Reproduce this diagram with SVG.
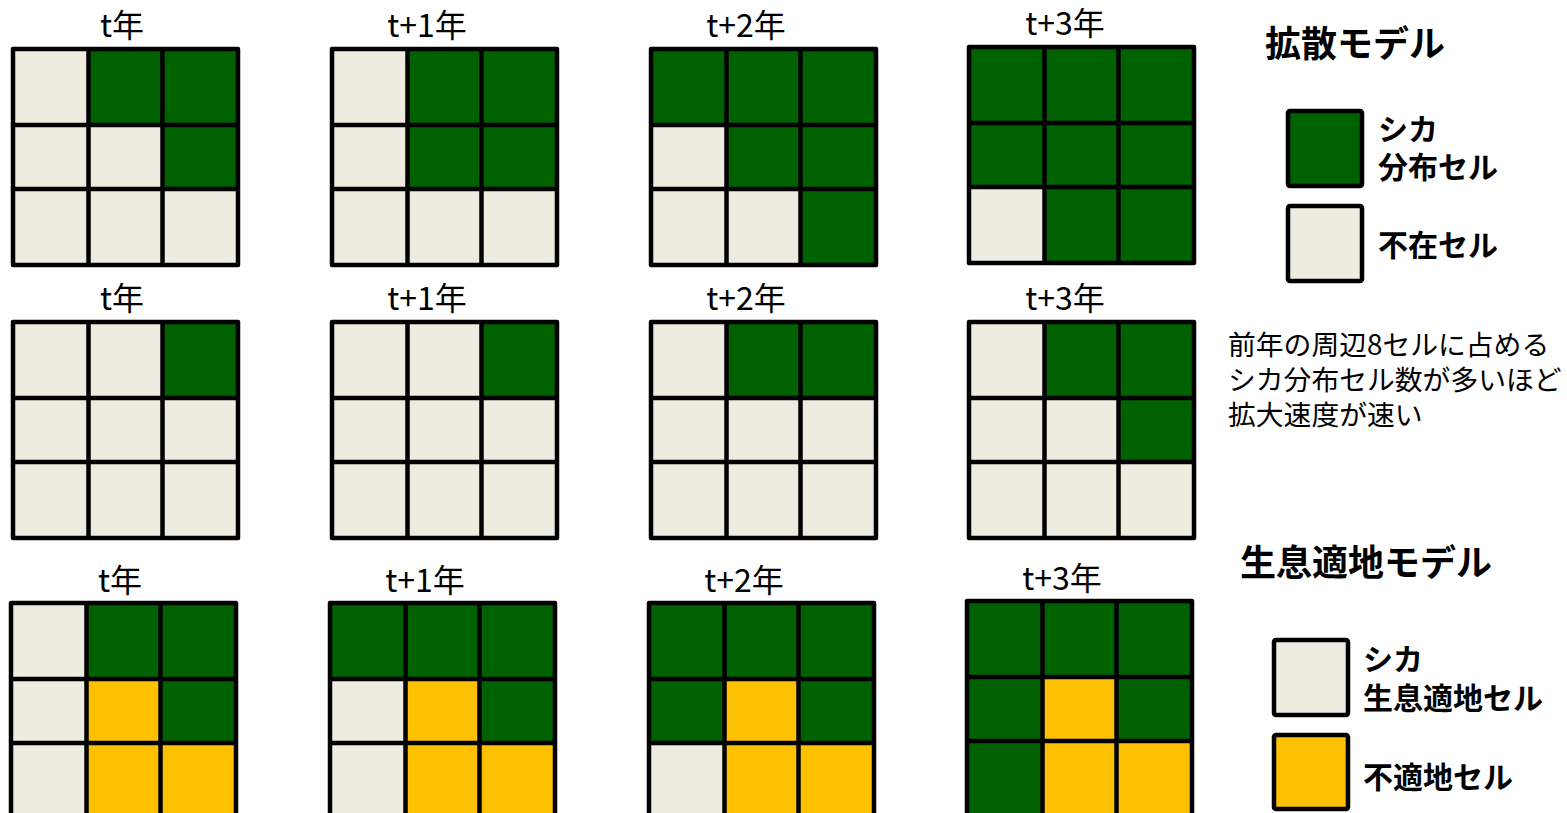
<svg xmlns="http://www.w3.org/2000/svg" width="1567" height="813" viewBox="0 0 1567 813">
<style>
text{font-family:"Noto Sans CJK JP","Liberation Sans",sans-serif;fill:#000}
.ttl{font-size:32px;text-anchor:middle}
.hd{font-size:36px;font-weight:700}
.lg{font-size:30px;font-weight:700}
.ds{font-size:27.8px}
.G{fill:#006100}
.L{fill:#EEECE1}
.Y{fill:#FFC000}
.c{stroke:#7f7f7f;stroke-width:0.8}
.gl{fill:none;stroke:#000;stroke-width:4.5;stroke-linejoin:round}
.box{stroke:#000;stroke-width:4.5;stroke-linejoin:round}
</style>
<defs>
<path id="lines" class="gl" d="M0,0H225V216H0Z M75.5,0V216 M149.5,0V216 M0,76H225 M0,140H225"/>
</defs>

<!-- Row 1: diffusion model -->
<g id="d-t">
<text class="ttl" x="122" y="37">t年</text>
<g transform="translate(13,49)">
<rect class="L c" x="0" y="0" width="75.5" height="76"/><rect class="G c" x="75.5" y="0" width="74" height="76"/><rect class="G c" x="149.5" y="0" width="75.5" height="76"/>
<rect class="L c" x="0" y="76" width="75.5" height="64"/><rect class="L c" x="75.5" y="76" width="74" height="64"/><rect class="G c" x="149.5" y="76" width="75.5" height="64"/>
<rect class="L c" x="0" y="140" width="75.5" height="76"/><rect class="L c" x="75.5" y="140" width="74" height="76"/><rect class="L c" x="149.5" y="140" width="75.5" height="76"/>
<use href="#lines"/>
</g>
</g>
<g id="d-t1">
<text class="ttl" x="427" y="37">t+1年</text>
<g transform="translate(332,49)">
<rect class="L c" x="0" y="0" width="75.5" height="76"/><rect class="G c" x="75.5" y="0" width="74" height="76"/><rect class="G c" x="149.5" y="0" width="75.5" height="76"/>
<rect class="L c" x="0" y="76" width="75.5" height="64"/><rect class="G c" x="75.5" y="76" width="74" height="64"/><rect class="G c" x="149.5" y="76" width="75.5" height="64"/>
<rect class="L c" x="0" y="140" width="75.5" height="76"/><rect class="L c" x="75.5" y="140" width="74" height="76"/><rect class="L c" x="149.5" y="140" width="75.5" height="76"/>
<use href="#lines"/>
</g>
</g>
<g id="d-t2">
<text class="ttl" x="746" y="37">t+2年</text>
<g transform="translate(651,49)">
<rect class="G c" x="0" y="0" width="75.5" height="76"/><rect class="G c" x="75.5" y="0" width="74" height="76"/><rect class="G c" x="149.5" y="0" width="75.5" height="76"/>
<rect class="L c" x="0" y="76" width="75.5" height="64"/><rect class="G c" x="75.5" y="76" width="74" height="64"/><rect class="G c" x="149.5" y="76" width="75.5" height="64"/>
<rect class="L c" x="0" y="140" width="75.5" height="76"/><rect class="L c" x="75.5" y="140" width="74" height="76"/><rect class="G c" x="149.5" y="140" width="75.5" height="76"/>
<use href="#lines"/>
</g>
</g>
<g id="d-t3">
<text class="ttl" x="1065" y="35">t+3年</text>
<g transform="translate(969,47)">
<rect class="G c" x="0" y="0" width="75.5" height="76"/><rect class="G c" x="75.5" y="0" width="74" height="76"/><rect class="G c" x="149.5" y="0" width="75.5" height="76"/>
<rect class="G c" x="0" y="76" width="75.5" height="64"/><rect class="G c" x="75.5" y="76" width="74" height="64"/><rect class="G c" x="149.5" y="76" width="75.5" height="64"/>
<rect class="L c" x="0" y="140" width="75.5" height="76"/><rect class="G c" x="75.5" y="140" width="74" height="76"/><rect class="G c" x="149.5" y="140" width="75.5" height="76"/>
<use href="#lines"/>
</g>
</g>

<!-- Row 2 -->
<g id="r2-t">
<text class="ttl" x="122" y="310">t年</text>
<g transform="translate(13,322)">
<rect class="L c" x="0" y="0" width="75.5" height="76"/><rect class="L c" x="75.5" y="0" width="74" height="76"/><rect class="G c" x="149.5" y="0" width="75.5" height="76"/>
<rect class="L c" x="0" y="76" width="75.5" height="64"/><rect class="L c" x="75.5" y="76" width="74" height="64"/><rect class="L c" x="149.5" y="76" width="75.5" height="64"/>
<rect class="L c" x="0" y="140" width="75.5" height="76"/><rect class="L c" x="75.5" y="140" width="74" height="76"/><rect class="L c" x="149.5" y="140" width="75.5" height="76"/>
<use href="#lines"/>
</g>
</g>
<g id="r2-t1">
<text class="ttl" x="427" y="310">t+1年</text>
<g transform="translate(332,322)">
<rect class="L c" x="0" y="0" width="75.5" height="76"/><rect class="L c" x="75.5" y="0" width="74" height="76"/><rect class="G c" x="149.5" y="0" width="75.5" height="76"/>
<rect class="L c" x="0" y="76" width="75.5" height="64"/><rect class="L c" x="75.5" y="76" width="74" height="64"/><rect class="L c" x="149.5" y="76" width="75.5" height="64"/>
<rect class="L c" x="0" y="140" width="75.5" height="76"/><rect class="L c" x="75.5" y="140" width="74" height="76"/><rect class="L c" x="149.5" y="140" width="75.5" height="76"/>
<use href="#lines"/>
</g>
</g>
<g id="r2-t2">
<text class="ttl" x="746" y="310">t+2年</text>
<g transform="translate(651,322)">
<rect class="L c" x="0" y="0" width="75.5" height="76"/><rect class="G c" x="75.5" y="0" width="74" height="76"/><rect class="G c" x="149.5" y="0" width="75.5" height="76"/>
<rect class="L c" x="0" y="76" width="75.5" height="64"/><rect class="L c" x="75.5" y="76" width="74" height="64"/><rect class="L c" x="149.5" y="76" width="75.5" height="64"/>
<rect class="L c" x="0" y="140" width="75.5" height="76"/><rect class="L c" x="75.5" y="140" width="74" height="76"/><rect class="L c" x="149.5" y="140" width="75.5" height="76"/>
<use href="#lines"/>
</g>
</g>
<g id="r2-t3">
<text class="ttl" x="1065" y="310">t+3年</text>
<g transform="translate(969,322)">
<rect class="L c" x="0" y="0" width="75.5" height="76"/><rect class="G c" x="75.5" y="0" width="74" height="76"/><rect class="G c" x="149.5" y="0" width="75.5" height="76"/>
<rect class="L c" x="0" y="76" width="75.5" height="64"/><rect class="L c" x="75.5" y="76" width="74" height="64"/><rect class="G c" x="149.5" y="76" width="75.5" height="64"/>
<rect class="L c" x="0" y="140" width="75.5" height="76"/><rect class="L c" x="75.5" y="140" width="74" height="76"/><rect class="L c" x="149.5" y="140" width="75.5" height="76"/>
<use href="#lines"/>
</g>
</g>

<!-- Row 3: habitat model -->
<g id="h-t">
<text class="ttl" x="120" y="592">t年</text>
<g transform="translate(11,603)">
<rect class="L c" x="0" y="0" width="75.5" height="76"/><rect class="G c" x="75.5" y="0" width="74" height="76"/><rect class="G c" x="149.5" y="0" width="75.5" height="76"/>
<rect class="L c" x="0" y="76" width="75.5" height="64"/><rect class="Y c" x="75.5" y="76" width="74" height="64"/><rect class="G c" x="149.5" y="76" width="75.5" height="64"/>
<rect class="L c" x="0" y="140" width="75.5" height="76"/><rect class="Y c" x="75.5" y="140" width="74" height="76"/><rect class="Y c" x="149.5" y="140" width="75.5" height="76"/>
<use href="#lines"/>
</g>
</g>
<g id="h-t1">
<text class="ttl" x="425" y="592">t+1年</text>
<g transform="translate(330,603)">
<rect class="G c" x="0" y="0" width="75.5" height="76"/><rect class="G c" x="75.5" y="0" width="74" height="76"/><rect class="G c" x="149.5" y="0" width="75.5" height="76"/>
<rect class="L c" x="0" y="76" width="75.5" height="64"/><rect class="Y c" x="75.5" y="76" width="74" height="64"/><rect class="G c" x="149.5" y="76" width="75.5" height="64"/>
<rect class="L c" x="0" y="140" width="75.5" height="76"/><rect class="Y c" x="75.5" y="140" width="74" height="76"/><rect class="Y c" x="149.5" y="140" width="75.5" height="76"/>
<use href="#lines"/>
</g>
</g>
<g id="h-t2">
<text class="ttl" x="744" y="592">t+2年</text>
<g transform="translate(649,603)">
<rect class="G c" x="0" y="0" width="75.5" height="76"/><rect class="G c" x="75.5" y="0" width="74" height="76"/><rect class="G c" x="149.5" y="0" width="75.5" height="76"/>
<rect class="G c" x="0" y="76" width="75.5" height="64"/><rect class="Y c" x="75.5" y="76" width="74" height="64"/><rect class="G c" x="149.5" y="76" width="75.5" height="64"/>
<rect class="L c" x="0" y="140" width="75.5" height="76"/><rect class="Y c" x="75.5" y="140" width="74" height="76"/><rect class="Y c" x="149.5" y="140" width="75.5" height="76"/>
<use href="#lines"/>
</g>
</g>
<g id="h-t3">
<text class="ttl" x="1062" y="590">t+3年</text>
<g transform="translate(967,601)">
<rect class="G c" x="0" y="0" width="75.5" height="76"/><rect class="G c" x="75.5" y="0" width="74" height="76"/><rect class="G c" x="149.5" y="0" width="75.5" height="76"/>
<rect class="G c" x="0" y="76" width="75.5" height="64"/><rect class="Y c" x="75.5" y="76" width="74" height="64"/><rect class="G c" x="149.5" y="76" width="75.5" height="64"/>
<rect class="G c" x="0" y="140" width="75.5" height="76"/><rect class="Y c" x="75.5" y="140" width="74" height="76"/><rect class="Y c" x="149.5" y="140" width="75.5" height="76"/>
<use href="#lines"/>
</g>
</g>

<!-- Legends -->
<g id="legend-diffusion">
<text class="hd" x="1265" y="57">拡散モデル</text>
<rect class="G box" x="1288" y="111" width="74" height="75" rx="2"/>
<text class="lg" x="1378" y="140">シカ</text>
<text class="lg" x="1378" y="178">分布セル</text>
<rect class="L box" x="1288" y="206" width="74" height="75" rx="2"/>
<text class="lg" x="1378" y="256">不在セル</text>
</g>
<g id="description">
<text class="ds" x="1228" y="355">前年の周辺8セルに占める</text>
<text class="ds" x="1228" y="390">シカ分布セル数が多いほど</text>
<text class="ds" x="1228" y="425">拡大速度が速い</text>
</g>
<g id="legend-habitat">
<text class="hd" x="1240" y="576">生息適地モデル</text>
<rect class="L box" x="1274" y="640" width="74" height="75" rx="2"/>
<text class="lg" x="1363" y="670">シカ</text>
<text class="lg" x="1363" y="709">生息適地セル</text>
<rect class="Y box" x="1274" y="735" width="74" height="74" rx="2"/>
<text class="lg" x="1363" y="788">不適地セル</text>
</g>
<g id="connectors"/>
</svg>
